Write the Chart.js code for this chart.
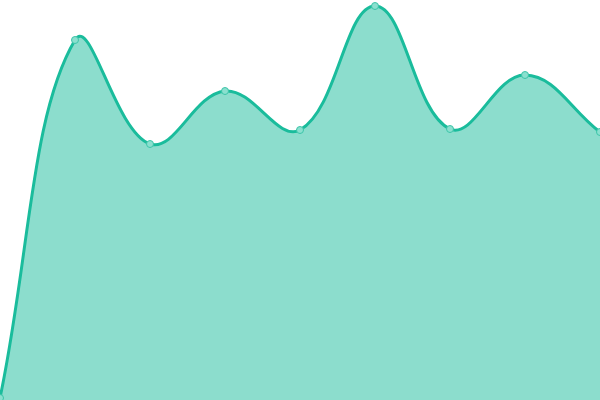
<!DOCTYPE html>
<html>
<head>
<meta charset="utf-8">
<script src="https://cdn.jsdelivr.net/npm/chart.js@4/dist/chart.umd.min.js"></script>
<style>
html,body{margin:0;padding:0;background:#fff;}
#wrap{width:600px;height:400px;}
</style>
</head>
<body>
<div id="wrap"><canvas id="c"></canvas></div>
<script>
const categories = ["1","2","3","4","5","6","7","8","9"];
const seriesValues = [2, 360, 256, 309, 270, 394, 271, 325, 268];

new Chart(document.getElementById('c'), {
  type: 'line',
  data: {
    labels: categories,
    datasets: [{
      data: seriesValues,
      borderColor: '#1abc9c',
      backgroundColor: 'rgba(26,188,156,0.5)',
      fill: true,
      tension: 0.4,
      borderWidth: 3,
      pointRadius: 3.5,
      pointBorderWidth: 1,
      pointBackgroundColor: 'rgba(138,224,207,1)',
      pointBorderColor: '#3cc4a8'
    }]
  },
  options: {
    responsive: true,
    maintainAspectRatio: false,
    animation: false,
    layout: { padding: 0, autoPadding: false },
    plugins: { legend: { display: false }, tooltip: { enabled: false } },
    scales: {
      x: { display: false, offset: false },
      y: { display: false, min: 0, max: 400 }
    },
    clip: false
  }
});
</script>
</body>
</html>
